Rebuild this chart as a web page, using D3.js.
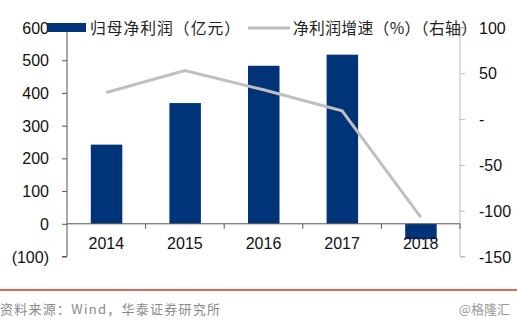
<!DOCTYPE html>
<html><head><meta charset="utf-8">
<script src="https://cdn.jsdelivr.net/npm/d3@7"></script>
<style>body{margin:0;background:#fff}svg{display:block}</style>
</head><body>
<svg id="c" width="517" height="323"></svg>
<script>
const categories = ["2014","2015","2016","2017","2018"];
const profit = [242, 369, 483, 517, -47];
const growth = [29, 53, 32, 9, -107];
const leftTicks = [600,500,400,300,200,100,0,-100];
const leftTickLabels = ["600","500","400","300","200","100","0","(100)"];
const rightTicks = [100,50,0,-50,-100,-150];
const rightTickLabels = ["100","50","-","-50","-100","-150"];
const legendLabels = ["归母净利润（亿元）","净利润增速（%）（右轴）"];
const sourceText = "资料来源：Wind，华泰证券研究所";
const watermark = "@格隆汇";

const svg = d3.select("#c");
const L = 67, R = 460, T = 27.5, B = 256.5;
const xb = d3.scaleBand().domain(categories).range([L, R]);
const yL = d3.scaleLinear().domain([-100, 600]).range([B, T]);
const yR = d3.scaleLinear().domain([-150, 100]).range([B, T]);
const font = "'Liberation Sans', Arial, sans-serif";
const cjk = "'Noto Sans CJK SC', sans-serif";
const fs = 16;

// bars
svg.append("g").selectAll("rect").data(profit).join("rect")
  .attr("x", (d,i) => xb(categories[i]) + xb.bandwidth()/2 - 15.5)
  .attr("width", 31.5)
  .attr("y", d => yL(Math.max(0,d)))
  .attr("height", d => Math.abs(yL(d) - yL(0)))
  .attr("fill", "#003478");

// left axis
const gl = svg.append("g").attr("transform", `translate(${L},0)`)
  .call(d3.axisLeft(yL).tickValues(leftTicks).tickSize(5).tickFormat((d,i)=>leftTickLabels[i]));
gl.select(".domain").attr("stroke", "#555").attr("d", `M-5,${T}H0V${B}H-5`);
gl.selectAll(".tick line").attr("stroke", "#555");
gl.selectAll(".tick text").attr("font-family", font).attr("font-size", fs).attr("fill", "#111").attr("x", -18).attr("dy", "0.35em");

// right axis
const gr = svg.append("g").attr("transform", `translate(${R},0)`)
  .call(d3.axisRight(yR).tickValues(rightTicks).tickSize(5).tickFormat((d,i)=>rightTickLabels[i]));
gr.select(".domain").attr("stroke", "#bbb").attr("d", `M5,${T}H0V${B}H5`);
gr.selectAll(".tick line").attr("stroke", "#bbb");
gr.selectAll(".tick text").attr("font-family", font).attr("font-size", fs).attr("fill", "#111").attr("x", 19).attr("dy", "0.35em");

// x axis at zero
const gx = svg.append("g").attr("transform", `translate(0,${yL(0)})`);
gx.append("line").attr("x1", L).attr("x2", R).attr("stroke", "#555");
gx.selectAll(".tk").data(categories).join("line")
  .attr("x1", d => xb(d) + xb.bandwidth()).attr("x2", d => xb(d) + xb.bandwidth())
  .attr("y1", 0).attr("y2", 5).attr("stroke", "#555");
gx.selectAll("text").data(categories).join("text")
  .attr("x", d => xb(d) + xb.bandwidth()/2).attr("y", 25)
  .attr("text-anchor", "middle").attr("font-family", font).attr("font-size", fs).attr("fill", "#111")
  .text(d => d);

// line
const line = d3.line().x((d,i) => xb(categories[i]) + xb.bandwidth()/2).y(d => yR(d));
svg.append("path").datum(growth).attr("d", line).attr("fill", "none")
  .attr("stroke", "#bfbfbf").attr("stroke-width", 3);

// legend
const lg = svg.append("g");
lg.append("rect").attr("x", 47).attr("y", 23).attr("width", 39).attr("height", 9).attr("fill", "#003478");
lg.append("text").attr("x", 90).attr("y", 34).attr("font-family", cjk).attr("font-size", 15.8).attr("fill", "#222")
  .attr("textLength", 150).attr("lengthAdjust", "spacing").text(legendLabels[0]);
lg.append("line").attr("x1", 248).attr("x2", 290).attr("y1", 28).attr("y2", 28).attr("stroke", "#bfbfbf").attr("stroke-width", 3);
lg.append("text").attr("x", 293).attr("y", 34).attr("font-family", cjk).attr("font-size", 15.8).attr("fill", "#222")
  .attr("textLength", 184).attr("lengthAdjust", "spacing").text(legendLabels[1]);

// footer
svg.append("line").attr("x1", 0).attr("x2", 517).attr("y1", 290).attr("y2", 290).attr("stroke", "#d9372b").attr("stroke-width", 1.5);
svg.append("text").attr("x", 0).attr("y", 314).attr("font-family", cjk).attr("font-size", 13).attr("fill", "#8a8a8a")
  .attr("textLength", 220).attr("lengthAdjust", "spacing").text(sourceText);
svg.append("text").attr("x", 510).attr("y", 314).attr("text-anchor", "end").attr("font-family", cjk).attr("font-size", 13).attr("fill", "#999").text(watermark);
</script>
</body></html>
